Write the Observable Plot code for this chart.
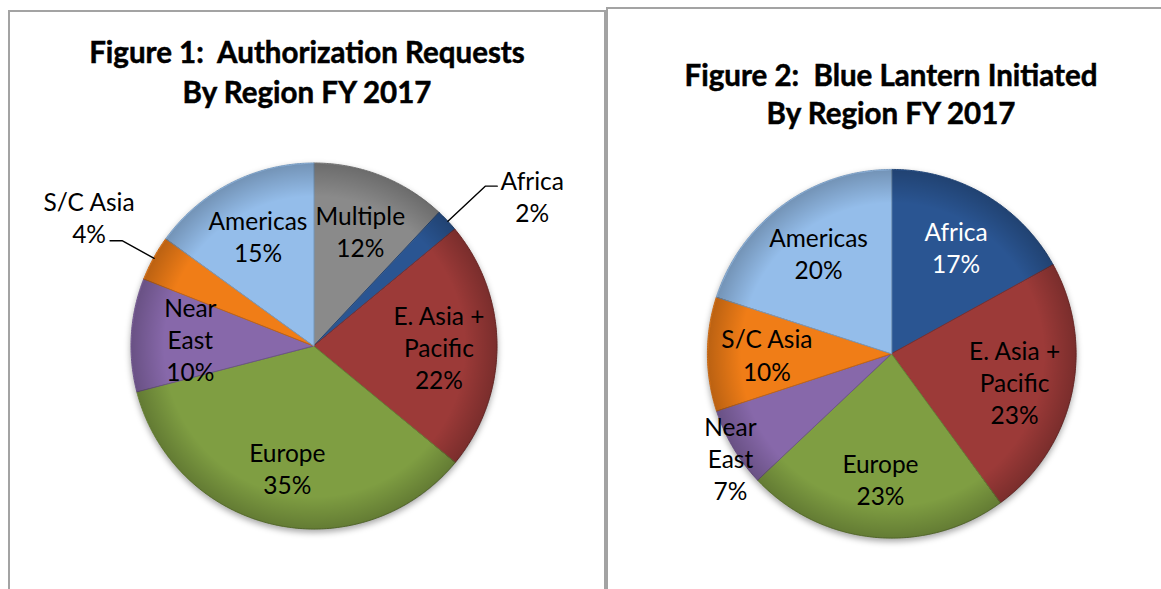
<!DOCTYPE html>
<html>
<head>
<meta charset="utf-8">
<script src="https://cdn.jsdelivr.net/npm/d3@7"></script>
<script src="https://cdn.jsdelivr.net/npm/@observablehq/plot@0.6"></script>
<style>
  html, body { margin: 0; padding: 0; background: #fff; }
  body { width: 1161px; height: 589px; overflow: hidden; position: relative; font-family: Lato, "Open Sans", sans-serif; }
  .panel { position: absolute; box-sizing: border-box; border: 2px solid #a3a3a3; }
  #p1 { left: 8px; top: 10px; width: 598px; height: 620px; }
  #p2 { left: 606px; top: 7px; width: 620px; height: 620px; }
  .title { position: absolute; text-align: center; font-weight: bold; color: #000; z-index: 2; white-space: pre; font-family: Lato, sans-serif; -webkit-text-stroke: 0.5px #000; }
  #t1 { left: 8px; width: 598px; top: 32px; font-size: 29.5px; line-height: 40px; }
  #t2 { left: 606px; width: 570px; top: 56px; font-size: 29.5px; line-height: 38px; }
  .chart { position: absolute; z-index: 1; }
</style>
</head>
<body>
<svg width="0" height="0" style="position:absolute">
  <defs>
    <radialGradient id="rim" cx="0.5" cy="0.5" r="0.5">
      <stop offset="0.82" stop-color="#000" stop-opacity="0"/>
      <stop offset="1" stop-color="#000" stop-opacity="0.22"/>
    </radialGradient>
  </defs>
</svg>
<div class="panel" id="p1"></div>
<div class="panel" id="p2"></div>
<div class="title" id="t1">Figure 1:  Authorization Requests
By Region FY 2017</div>
<div class="title" id="t2">Figure 2:  Blue Lantern Initiated
By Region FY 2017</div>
<div class="chart" id="c1"></div>
<div class="chart" id="c2"></div>
<script>
// ---- Data ----
const regions1 = ["Multiple", "Africa", "E. Asia + Pacific", "Europe", "Near East", "S/C Asia", "Americas"];
const labels1  = ["Multiple", "Africa", "E. Asia +\nPacific", "Europe", "Near\nEast", "S/C Asia", "Americas"];
const share1   = [12, 2, 22, 35, 10, 4, 15];

const regions2 = ["Africa", "E. Asia + Pacific", "Europe", "Near East", "S/C Asia", "Americas"];
const labels2  = ["Africa", "E. Asia +\nPacific", "Europe", "Near\nEast", "S/C Asia", "Americas"];
const share2   = [17, 23, 23, 7, 10, 20];

const paletteRegions = ["Multiple", "Africa", "E. Asia + Pacific", "Europe", "Near East", "S/C Asia", "Americas"];
const paletteColors  = ["#8a8a8a", "#2a5592", "#9c3a38", "#7f9e42", "#8768aa", "#f07d17", "#94bdea"];
const colorOf = new Map(paletteRegions.map((r, i) => [r, paletteColors[i]]));

function drawPie({names, labels, values, cx, cy, R, W, H, left, top, target}) {
  const arcs = d3.pie().sort(null).value(d => d)(values);
  const total = d3.sum(values);
  const kx = W / 2 / R, ky = H / 2 / R;
  const wedge = [];
  arcs.forEach((a, i) => {
    const n = Math.max(3, Math.ceil((a.endAngle - a.startAngle) / (Math.PI / 360)));
    for (let k = 0; k <= n; k++) {
      const t = a.startAngle + (a.endAngle - a.startAngle) * k / n;
      wedge.push({name: names[i], x: Math.sin(t), y: Math.cos(t), x0: 0, y0: 0,
                  fill: colorOf.get(names[i]), stroke: d3.color(colorOf.get(names[i])).darker(0.6).formatHex()});
    }
  });
  const lab = [], leaders = [];
  arcs.forEach((a, i) => {
    const mid = (a.startAngle + a.endAngle) / 2;
    const share = values[i] / total;
    const text = labels[i] + "\n" + values[i] + "%";
    const sx = Math.sin(mid), sy = Math.cos(mid);
    if (share < 0.05) {
      const right = sx > 0;
      const f = right ? 1.28 : 1.2;
      const e = {x: sx * f, y: sy * f};
      const hx = e.x + (right ? 12 : -12) / R;
      leaders.push({id: i, x: sx * 1.0, y: sy * 1.0}, {id: i, x: e.x, y: e.y}, {id: i, x: hx, y: e.y});
      lab.push({text, x: hx + (right ? 35 : -21) / R, y: e.y + (right ? -10 : 24) / R, color: "#000"});
    } else if (share < 0.08) {
      lab.push({text, x: sx * 1.02, y: sy * 1.02 - 8 / R, color: "#000"});
    } else {
      const c = d3.hsl(colorOf.get(names[i]));
      lab.push({text, x: sx * 0.68, y: sy * 0.68, color: c.l < 0.4 ? "#fff" : "#000"});
    }
  });
  const plot = Plot.plot({
    width: W, height: H, margin: 0,
    x: {domain: [-kx, kx], axis: null},
    y: {domain: [-ky, ky], axis: null},
    color: {type: "identity"},
    style: {background: "transparent", overflow: "visible"},
    marks: [
      Plot.area(wedge, {x1: "x0", y1: "y0", x2: "x", y2: "y", z: "name", fill: "fill", stroke: "stroke", strokeWidth: 1, curve: "linear"}),
      Plot.dot([{x: 0, y: 0}], {x: "x", y: "y", r: R, fill: "url(#rim)", stroke: "none"}),
      Plot.line(leaders, {x: "x", y: "y", z: "id", stroke: "#000", strokeWidth: 1.4, curve: "linear"}),
      Plot.text(lab, {x: "x", y: "y", text: "text", fill: "color", fontSize: 24.5, fontFamily: "Lato, sans-serif", lineHeight: 1.31})
    ]
  });
  const g = plot.querySelector('g[aria-label="area"]');
  if (g) g.style.filter = "drop-shadow(0px 3px 3px rgba(0,0,0,0.35))";
  const host = document.getElementById(target);
  host.style.left = left + "px";
  host.style.top = top + "px";
  host.appendChild(plot);
}

drawPie({names: regions1, labels: labels1, values: share1, R: 183, W: 600, H: 520, left: 313.5 - 300, top: 346 - 260, target: "c1"});
drawPie({names: regions2, labels: labels2, values: share2, R: 184.5, W: 540, H: 500, left: 891.5 - 270, top: 353.5 - 250, target: "c2"});
</script>
</body>
</html>
